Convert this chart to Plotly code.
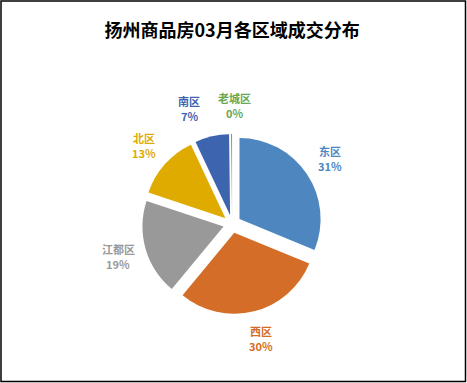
import math
import plotly.graph_objects as go

labels = ["东区", "西区", "江都区", "北区", "南区", "老城区"]
values = [31.2, 29.8, 19.1, 12.9, 6.8, 0.2]
colors = ["#4E86BF", "#D46D28", "#999999", "#E0AB00", "#3C64AF", "#6AA84F"]
pull = 0.11

W, H = 467, 383
dom_x = [0.304, 0.690]
dom_y = [0.180, 0.650]

fig = go.Figure(go.Pie(
    labels=labels,
    values=values,
    sort=False,
    direction="clockwise",
    rotation=0,
    pull=[pull] * len(values),
    marker=dict(colors=colors, line=dict(color="white", width=0)),
    textinfo="none",
    showlegend=False,
    domain=dict(x=dom_x, y=dom_y),
    hoverinfo="skip",
))

# label placement derived from the slice angles (outside end)
cx = (dom_x[0] + dom_x[1]) / 2 * W
cy = (dom_y[0] + dom_y[1]) / 2 * H
R = min((dom_x[1] - dom_x[0]) * W, (dom_y[1] - dom_y[0]) * H) / (2 + 2 * pull)
D = R * 1.46
total = sum(values)
pos = []
cum = 0.0
for lab, v in zip(labels, values):
    mid = math.radians((cum + v / 2) / total * 360)
    cum += v
    pos.append([cx + D * math.sin(mid), cy + D * math.cos(mid), len(lab) * 12.5])
# simple collision avoidance
for _ in range(5):
    for i in range(len(pos)):
        for j in range(i + 1, len(pos)):
            a, b = pos[i], pos[j]
            if abs(a[1] - b[1]) < 30:
                need = (a[2] + b[2]) / 2 + 14 - abs(a[0] - b[0])
                if need > 0:
                    left, right = (a, b) if a[0] < b[0] else (b, a)
                    left[0] -= need * 0.85
                    right[0] += need * 0.15

annotations = []
for (x, y, _), lab, v, c in zip(pos, labels, values, colors):
    for txt, dy in ((lab, 7.5), (f"{round(v / total * 100)}%", -7.5)):
        annotations.append(dict(
            x=x / W, y=(y + dy) / H, xref="paper", yref="paper",
            text=f"<b>{txt}</b>",
            showarrow=False, xanchor="center", yanchor="middle",
            font=dict(family="Noto Sans CJK SC", size=11, color=c),
        ))

fig.update_layout(
    width=W, height=H,
    margin=dict(l=0, r=0, t=0, b=0),
    paper_bgcolor="white",
    title=dict(text="<b>扬州商品房03月各区域成交分布</b>", x=0.497, y=1 - 31 / H,
               xanchor="center", yanchor="middle",
               font=dict(family="Noto Sans CJK SC", size=18, color="black")),
    annotations=annotations,
    shapes=[dict(type="rect", xref="paper", yref="paper",
                 x0=1 / W, y0=1.5 / H, x1=1 - 1.5 / W, y1=1 - 1 / H,
                 line=dict(color="black", width=1.5))],
)

fig.write_html("out.html", config={"displayModeBar": False},
               post_script="document.body.style.margin='0';document.body.style.overflow='hidden';")
